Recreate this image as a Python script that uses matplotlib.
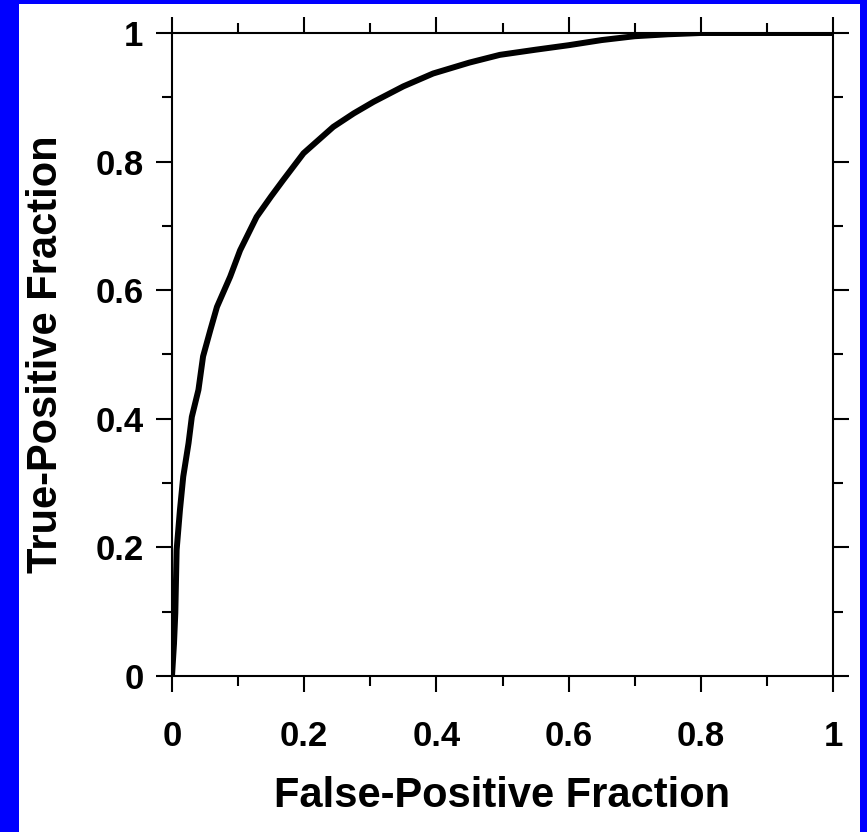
# roc_curve.py
# Redraws the ROC curve figure (true-positive vs false-positive fraction)

import matplotlib

matplotlib.use("Agg")
import matplotlib.pyplot as plt
from matplotlib import ticker
from matplotlib.patches import Rectangle

# Curve
fpf = [0.0, 0.003, 0.005, 0.007, 0.012, 0.017, 0.025, 0.030, 0.040, 0.047,
       0.058, 0.068, 0.088, 0.103, 0.128, 0.150, 0.168, 0.199, 0.244, 0.275,
       0.305, 0.350, 0.395, 0.450, 0.496, 0.550, 0.600, 0.650, 0.700, 0.750,
       0.800, 0.900, 1.0]
tpf = [0.0, 0.050, 0.098, 0.196, 0.258, 0.310, 0.362, 0.403, 0.445, 0.497,
       0.538, 0.574, 0.621, 0.662, 0.714, 0.746, 0.771, 0.813, 0.854, 0.875,
       0.893, 0.917, 0.937, 0.954, 0.966, 0.974, 0.981, 0.989, 0.995, 0.998,
       1.0, 1.0, 1.0]

major_ticks = [0, 0.2, 0.4, 0.6, 0.8, 1]
tick_labels = ["0", "0.2", "0.4", "0.6", "0.8", "1"]

plt.rcParams["font.family"] = ["Liberation Sans", "DejaVu Sans"]
plt.rcParams["font.weight"] = "bold"

fig = plt.figure(figsize=(8.67, 8.32), dpi=100, facecolor="#0000ff")
# white panel inside the blue frame
fig.patches.append(Rectangle((19 / 867, 0), (860 - 19) / 867, (832 - 4) / 832,
                             transform=fig.transFigure, facecolor="white",
                             edgecolor="none", zorder=-10))

ax = fig.add_axes([172 / 867, 156 / 832, 661 / 867, 643 / 832])
ax.set_facecolor("white")
ax.plot(fpf, tpf, color="black", lw=4.3, solid_capstyle="butt",
        solid_joinstyle="round", zorder=3)

ax.set_xlim(0, 1)
ax.set_ylim(0, 1)
for side in ("left", "right", "top", "bottom"):
    ax.spines[side].set_linewidth(1.5)

for axis in (ax.xaxis, ax.yaxis):
    axis.set_major_locator(ticker.FixedLocator(major_ticks))
    axis.set_major_formatter(ticker.FixedFormatter(tick_labels))
    axis.set_minor_locator(ticker.MultipleLocator(0.1))

ax.tick_params(which="both", direction="out", width=1.5,
               top=True, right=True, labeltop=False, labelright=False)
ax.tick_params(which="major", length=11.5)
ax.tick_params(which="minor", length=7)
ax.tick_params(axis="x", which="major", pad=20, labelsize=25)
ax.tick_params(axis="y", which="major", pad=9, labelsize=25)

ax.set_xlabel("False-Positive Fraction", fontsize=30, fontweight="bold", labelpad=17)
ax.set_ylabel("True-Positive Fraction", fontsize=30, fontweight="bold", labelpad=21)

fig.savefig("out.png", dpi=100, facecolor=fig.get_facecolor())
